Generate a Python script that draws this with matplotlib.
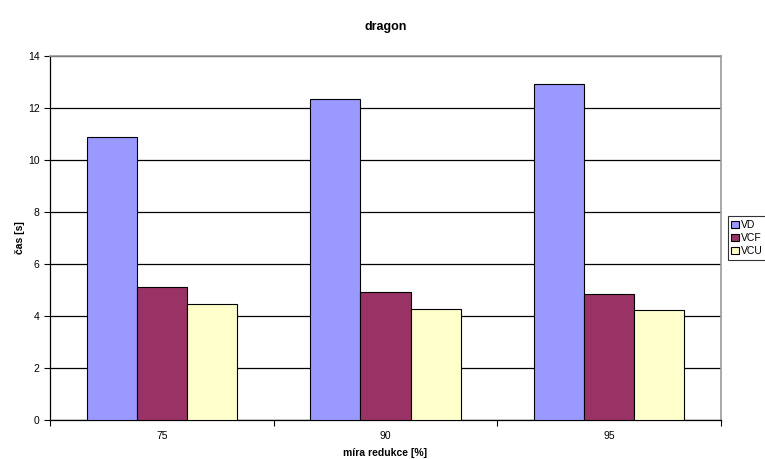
import matplotlib
matplotlib.use("Agg")
import matplotlib.pyplot as plt
import numpy as np

categories = ["75", "90", "95"]
series_names = ["VD", "VCF", "VCU"]
vd = [10.88, 12.33, 12.93]
vcf = [5.12, 4.93, 4.83]
vcu = [4.47, 4.28, 4.24]
colors = ["#9999ff", "#993366", "#ffffcc"]
y_ticks = [0, 2, 4, 6, 8, 10, 12, 14]

plt.rcParams["font.family"] = ["Liberation Sans", "DejaVu Sans"]

fig = plt.figure(figsize=(7.65, 4.59), dpi=100)
ax = fig.add_axes([50 / 765, 39 / 459, 671 / 765, 364 / 459])

x = np.arange(len(categories))
w = 0.224
for i, (vals, name, c) in enumerate(zip([vd, vcf, vcu], series_names, colors)):
    ax.bar(x + (i - 1) * w, vals, width=w, color=c, edgecolor="black",
           linewidth=0.8, label=name, zorder=3)

ax.set_xlim(-0.5, len(categories) - 0.5)
ax.set_ylim(0, 14)
ax.set_yticks(y_ticks)
ax.yaxis.grid(True, color="black", linewidth=0.9, zorder=0)
ax.set_axisbelow(True)

ax.set_xticks(x)
ax.set_xticklabels(categories)
ax.set_xticks(np.arange(-0.5, len(categories)), minor=True)
ax.tick_params(axis="x", which="major", length=0, labelsize=7.5, pad=8)
ax.tick_params(axis="x", which="minor", length=4, width=0.8, direction="out")
ax.tick_params(axis="y", length=4, width=0.8, direction="out", labelsize=7.5)

for side in ("top", "right"):
    ax.spines[side].set_color("#999999")
    ax.spines[side].set_linewidth(1.2)
for side in ("left", "bottom"):
    ax.spines[side].set_color("black")
    ax.spines[side].set_linewidth(0.9)

ax.set_xlabel("míra redukce [%]", fontsize=7.5, fontweight="bold", labelpad=5)
ax.set_ylabel("čas [s]", fontsize=7.5, fontweight="bold")
ax.yaxis.set_label_coords(-0.037, 0.5)
fig.text(386 / 765, 1 - 27 / 459, "dragon", ha="center", va="center",
         fontsize=9, fontweight="bold")

leg = ax.legend(loc="center left", bbox_to_anchor=(1.01, 0.5), fontsize=7.5,
                frameon=True, fancybox=False, edgecolor="black",
                handlelength=0.7, handleheight=0.7, handletextpad=0.2,
                borderpad=0.35, labelspacing=0.3, borderaxespad=0)
leg.get_frame().set_linewidth(0.8)

fig.savefig("out.png", dpi=100)
